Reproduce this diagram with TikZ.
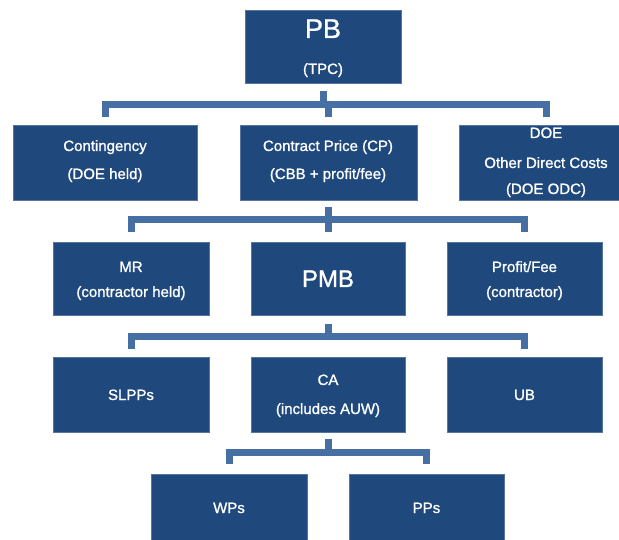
\documentclass[tikz,border=0pt]{standalone}
\usepackage{fontspec}
\setmainfont[FakeBold=1.2]{Liberation Sans}
\usetikzlibrary{calc}
\definecolor{boxblue}{RGB}{31,73,125}
\definecolor{linkblue}{RGB}{70,112,163}
\begin{document}
\begin{tikzpicture}[x=1pt,y=-1pt,
  box/.style={fill=boxblue, draw=boxblue!75!white, line width=0.5pt, inner sep=0pt, anchor=north west},
  txt/.style={text=white, anchor=base, inner sep=0pt, font=\fontsize{15}{18}\selectfont},
  bigtxt/.style={text=white, anchor=base, inner sep=0pt, font=\fontsize{27}{30}\selectfont},
  link/.style={draw=linkblue, line width=7pt}]
\useasboundingbox (0,0) rectangle (619,540);
\clip (0,0) rectangle (619,540);
% boxes
\node[box, minimum width=156pt, minimum height=73pt] (pb) at (245,10) {};
\node[box, minimum width=184pt, minimum height=75pt] (cont) at (13,125) {};
\node[box, minimum width=177pt, minimum height=75pt] (cp) at (240,125) {};
\node[box, minimum width=175pt, minimum height=75pt] (doe) at (459,125) {};
\node[box, minimum width=156pt, minimum height=73pt] (mr) at (53,242) {};
\node[box, minimum width=154pt, minimum height=73pt] (pmb) at (251,242) {};
\node[box, minimum width=155pt, minimum height=73pt] (pf) at (447,242) {};
\node[box, minimum width=156pt, minimum height=75pt] (slpp) at (53,357) {};
\node[box, minimum width=154pt, minimum height=75pt] (ca) at (251,357) {};
\node[box, minimum width=155pt, minimum height=75pt] (ub) at (447,357) {};
\node[box, minimum width=156pt, minimum height=80pt] (wp) at (151,474) {};
\node[box, minimum width=155pt, minimum height=80pt] (pp) at (349,474) {};
% texts
\node[bigtxt] (pbt) at (323,38) {PB};
\node[txt] (tpc) at (323,74) {(TPC)};
\node[txt] (cont1) at (105,151) {Contingency};
\node[txt] (cont2) at (105,179) {(DOE held)};
\node[txt] (cp1) at (328,151) {Contract Price (CP)};
\node[txt] (cp2) at (328,179) {(CBB + profit/fee)};
\node[txt] (doe1) at (546,138) {DOE};
\node[txt] (doe2) at (546,168) {Other Direct Costs};
\node[txt] (doe3) at (546,194) {(DOE ODC)};
\node[txt] (mr1) at (131,272) {MR};
\node[txt] (mr2) at (131,297) {(contractor held)};
\node[text=white, anchor=base, inner sep=0pt, font=\fontsize{24}{28}\selectfont] (pmbt) at (328,287) {PMB};
\node[txt] (pf1) at (524.5,272) {Profit/Fee};
\node[txt] (pf2) at (524.5,297) {(contractor)};
\node[txt] (slppt) at (131,400) {SLPPs};
\node[txt] (ca1) at (328,385) {CA};
\node[txt] (ca2) at (328,414) {(includes AUW)};
\node[txt] (ubt) at (524.5,400) {UB};
\node[txt] (wpt) at (229,513) {WPs};
\node[txt] (ppt) at (426.5,513) {PPs};
% connectors
\draw[link] ([yshift=-8pt]pb.south) -- ++(0,14);
\draw[link] ([yshift=8pt]cont.north) -- ++(0,-12.5) -| ([yshift=8pt]doe1 |- doe.north);
\draw[link] ([yshift=8pt]cp.north) -- ++(0,-12.5);
\draw[link] ([yshift=-7pt]cp.south) -- ++(0,13);
\draw[link] ([yshift=10pt]mr.north) -- ++(0,-12) -| ([yshift=10pt]pf.north);
\draw[link] ([yshift=10pt]pmb.north) -- ++(0,-12);
\draw[link] ([yshift=-9pt]pmb.south) -- ++(0,13);
\draw[link] ([yshift=8pt]slpp.north) -- ++(0,-12) -| ([yshift=8pt]ub.north);
\draw[link] ([yshift=-6pt]ca.south) -- ++(0,14);
\draw[link] ([yshift=10pt]wp.north) -- ++(0,-12) -| ([yshift=10pt]pp.north);
\end{tikzpicture}
\end{document}
